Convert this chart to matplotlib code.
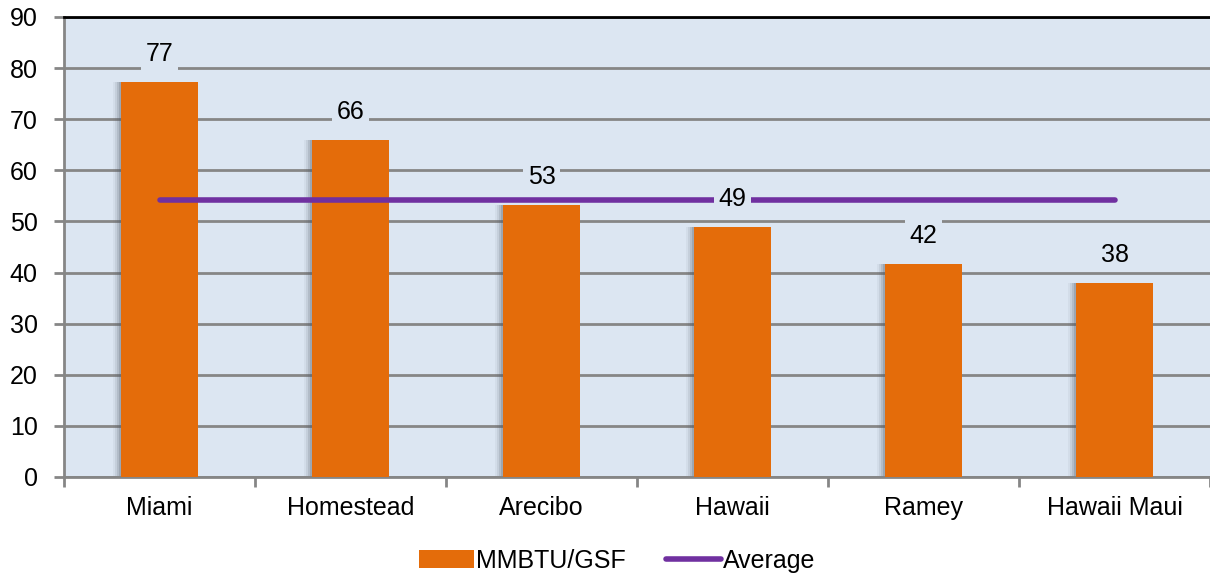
import matplotlib
matplotlib.use("Agg")
import matplotlib.pyplot as plt
import numpy as np

plt.rcParams['font.family'] = ['Liberation Sans', 'DejaVu Sans']

# data
sites = ["Miami", "Homestead", "Arecibo", "Hawaii", "Ramey", "Hawaii Maui"]
mmbtu = [77.2, 65.9, 53.2, 48.9, 41.7, 38.0]
labels = ["77", "66", "53", "49", "42", "38"]
average = [54.2] * len(sites)

BG = "#dce6f2"
BAR = "#e46c0a"
PURPLE = "#7030a0"
GRID = "#868686"

fig = plt.figure(figsize=(12.1, 5.78), dpi=100)
ax = fig.add_axes([64 / 1210, 1 - 477 / 578, 1 - 64 / 1210, (477 - 17) / 578])
ax.set_facecolor(BG)

x = np.arange(len(sites))
# soft shadow to the left of each bar
for k, a in enumerate([0.06, 0.10, 0.16, 0.22]):
    ax.bar(x - 0.011 * (4 - k), mmbtu, width=0.40, color="#505a66",
           alpha=a, zorder=2, linewidth=0)
bars = ax.bar(x, mmbtu, width=0.40, color=BAR, zorder=3, label="MMBTU/GSF")
ax.plot(x, average, color=PURPLE, linewidth=4, zorder=4, label="Average",
        solid_capstyle="round")

for xi, v, t in zip(x, mmbtu, labels):
    ax.text(xi, v + 5.5, t, ha="center", va="center", fontsize=18, zorder=5,
            bbox=dict(boxstyle="square,pad=0.2", facecolor=BG, edgecolor="none"))

ax.set_ylim(0, 90)
ax.set_xlim(-0.5, len(sites) - 0.5)
ax.set_yticks(range(0, 91, 10))
ax.yaxis.grid(True, color=GRID, linewidth=2)
ax.set_axisbelow(True)

ax.set_xticks(x)
ax.set_xticklabels(sites, fontsize=18)
ax.set_xticks(np.arange(-0.5, len(sites), 1.0), minor=True)
ax.tick_params(axis="x", which="major", length=0, pad=14)
ax.tick_params(axis="x", which="minor", length=7, width=2, color=GRID)
ax.tick_params(axis="y", labelsize=18, length=7, width=2, color=GRID, pad=12)

for s in ["left", "bottom"]:
    ax.spines[s].set_color(GRID)
    ax.spines[s].set_linewidth(2)
ax.spines["right"].set_visible(False)
ax.spines["top"].set_color("black")
ax.spines["top"].set_linewidth(2)

handles, lbls = ax.get_legend_handles_labels()
fig.legend([handles[1], handles[0]], [lbls[1], lbls[0]], loc="center",
           bbox_to_anchor=(0.510, 0.03), ncol=2, frameon=False, fontsize=18,
           handlelength=2.2, handletextpad=0.1, columnspacing=1.6)

fig.savefig("out.png", dpi=100)
